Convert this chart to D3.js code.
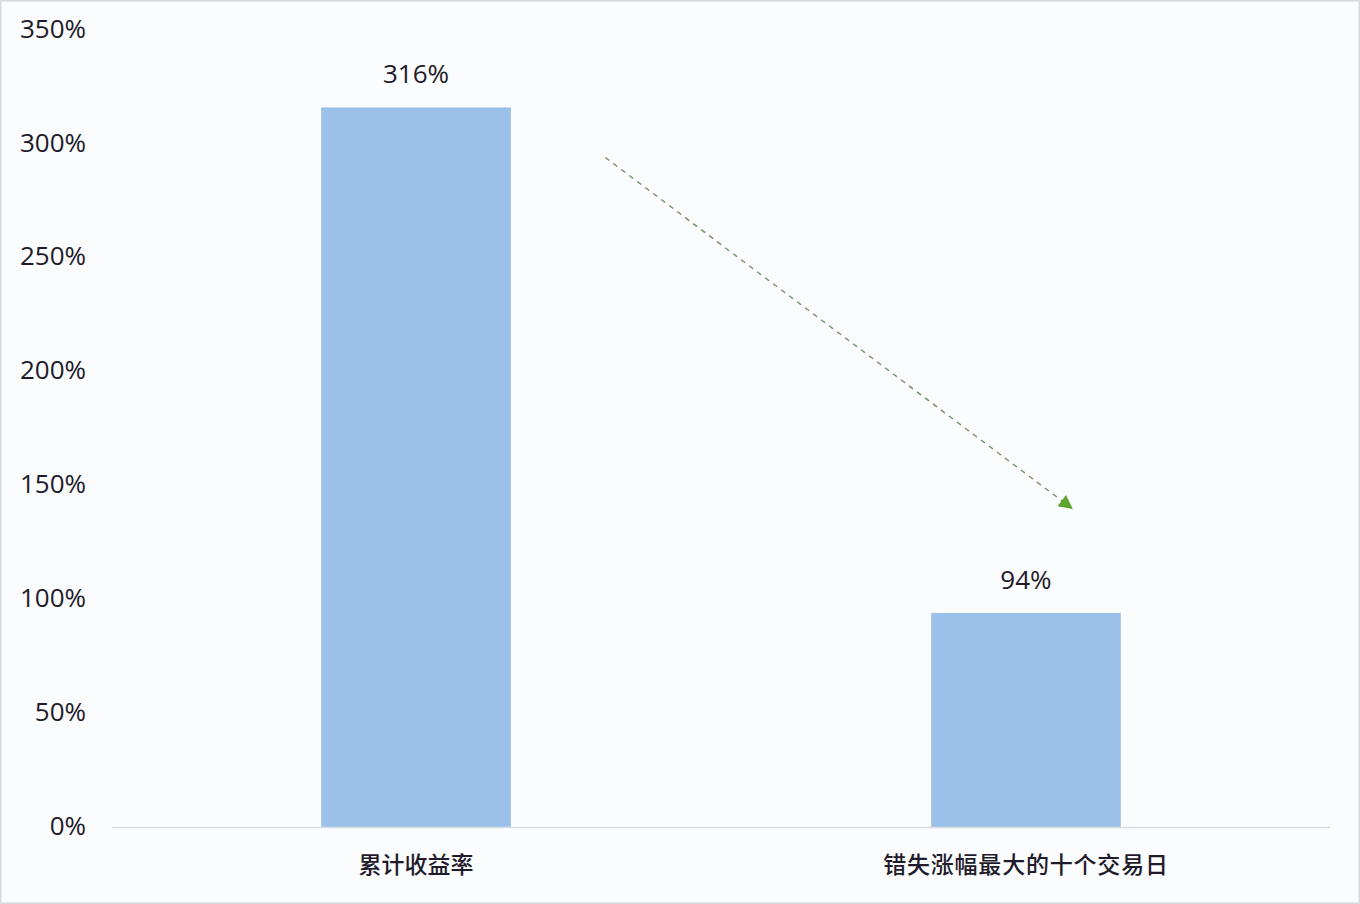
<!DOCTYPE html>
<html>
<head>
<meta charset="utf-8">
<script src="https://cdn.jsdelivr.net/npm/d3@7"></script>
<style>
html,body{margin:0;padding:0;background:#fafcfe;}
svg{display:block;}
</style>
</head>
<body>
<svg id="chart" width="1360" height="904"></svg>
<script>
const categories = ["累计收益率", "错失涨幅最大的十个交易日"];
const values = [316, 94];
const valueLabels = ["316%", "94%"];
const yTicks = [0, 50, 100, 150, 200, 250, 300, 350];
// annotation arrow: x as fraction of plot width, y as value (%)
const arrowFrom = {pos: 0.405, value: 294};
const arrowTo = {pos: 0.788, value: 140};

const W = 1360, H = 904;
const margin = {left: 112, right: 30, top: 30, bottom: 77};
const svg = d3.select("#chart");

svg.append("rect").attr("x", 0.75).attr("y", 0.75).attr("width", W - 1.5).attr("height", H - 1.5)
  .attr("fill", "#fafcfe").attr("stroke", "#d6d9de").attr("stroke-width", 1.5);

const x = d3.scaleBand().domain(categories).range([margin.left, W - margin.right])
  .paddingInner(0.689).paddingOuter(0.343);
const y = d3.scaleLinear().domain([0, 350]).range([H - margin.bottom, margin.top]);
const xf = d3.scaleLinear().domain([0, 1]).range([margin.left, W - margin.right]);

const font = "'Open Sans', 'Noto Sans', sans-serif";
const cjk = "'Noto Sans CJK SC', sans-serif";
const textColor = "#1f1b2a";

// y axis labels
const yAxis = d3.axisLeft(y).tickValues(yTicks).tickFormat(d => d + "%").tickSize(0).tickPadding(0);
const ya = svg.append("g").attr("transform", `translate(86,0)`).call(yAxis);
ya.select(".domain").remove();
ya.selectAll("text").attr("font-family", font).attr("font-size", 26).attr("fill", textColor)
  .attr("dy", "0.28em");

// bars
svg.selectAll(".bar").data(values).join("rect").attr("class", "bar")
  .attr("x", (d, i) => x(categories[i]))
  .attr("width", x.bandwidth())
  .attr("y", d => y(d))
  .attr("height", d => y(0) - y(d))
  .attr("fill", "#9bc0e9");

// baseline
svg.append("line").attr("x1", margin.left).attr("x2", W - margin.right)
  .attr("y1", y(0) + 0.5).attr("y2", y(0) + 0.5).attr("stroke", "#d9dde3").attr("stroke-width", 1.3);

// value labels
svg.selectAll(".vl").data(values).join("text").attr("class", "vl")
  .attr("x", (d, i) => x(categories[i]) + x.bandwidth() / 2)
  .attr("y", d => y(d) - 32)
  .attr("dy", "0.3em")
  .attr("text-anchor", "middle").attr("font-family", font).attr("font-size", 26).attr("fill", textColor)
  .text((d, i) => valueLabels[i]);

// x axis labels
const xAxis = d3.axisBottom(x).tickSize(0).tickPadding(0);
const xa = svg.append("g").attr("transform", `translate(0,${y(0) + 38})`).call(xAxis);
xa.select(".domain").remove();
xa.selectAll("text").attr("font-family", cjk).attr("font-size", 23).attr("fill", textColor)
  .attr("font-weight", 500).attr("dy", "0.35em");
xa.selectAll(".tick").filter((d, i) => i === 1).select("text").attr("letter-spacing", 0.8);

// arrow
const defs = svg.append("defs");
defs.append("marker").attr("id", "ah").attr("viewBox", "0 0 10 10").attr("refX", 9).attr("refY", 5)
  .attr("markerWidth", 15).attr("markerHeight", 14).attr("markerUnits", "userSpaceOnUse").attr("orient", "auto")
  .append("path").attr("d", "M0,0 L10,5 L0,10 Z").attr("fill", "#5ea52e");
const x1 = xf(arrowFrom.pos), y1 = y(arrowFrom.value), x2 = xf(arrowTo.pos), y2 = y(arrowTo.value);
svg.append("line").attr("x1", x1).attr("y1", y1).attr("x2", x2).attr("y2", y2)
  .attr("stroke", "#6f8a5c").attr("stroke-width", 1.3).attr("stroke-dasharray", "5,5")
  .attr("marker-end", "url(#ah)");
</script>
</body>
</html>
